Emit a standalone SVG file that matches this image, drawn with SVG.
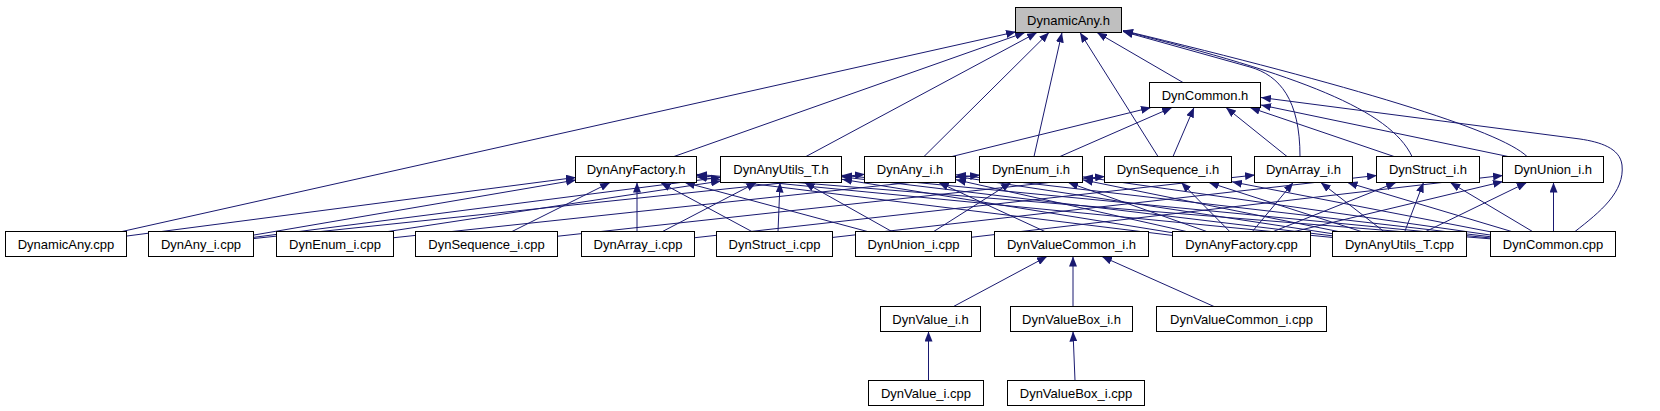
<svg xmlns="http://www.w3.org/2000/svg" width="1660" height="411" viewBox="0 0 1660 411">
<style>
.n rect{fill:#ffffff;stroke:#000000;stroke-width:1}
.n text{font-family:"Liberation Sans",Arial,sans-serif;font-size:13px;text-anchor:middle;fill:#000000}
#n_DynamicAny_h rect{fill:#bfbfbf}
.e path{fill:none;stroke:#191970;stroke-width:1;marker-end:url(#ah)}
</style>
<defs>
<marker id="ah" viewBox="0 0 10 8" markerWidth="10" markerHeight="8" refX="10" refY="4" orient="auto" markerUnits="userSpaceOnUse">
<path d="M0,0 L10,4 L0,8 z" fill="#191970"/>
</marker>
</defs>
<rect x="0" y="0" width="1660" height="411" fill="#ffffff"/>
<g id="connectors" class="e">
<!-- into DynamicAny.h -->
<path d="M122,231.5 L1016,31.8"/>
<path d="M674,156.5 L1025,32.5"/>
<path d="M806,156.5 L1037,32.5"/>
<path d="M924,156.5 L1049,32.5"/>
<path d="M1034,156.5 L1062,32.5"/>
<path d="M1158,156.5 L1080,32.5"/>
<path d="M1183,82.5 L1097,32.5"/>
<path d="M1300,156.5 C1300,100 1280,75.5 1250,67 L1123,31.5"/>
<path d="M1412,156.5 C1390,110 1300,75 1123,31"/>
<path d="M1527,156.5 C1500,130 1350,85 1123,30.5"/>
<!-- into DynCommon.h -->
<path d="M952,156.5 L1151,107.5"/>
<path d="M1060,156.5 L1172,107.5"/>
<path d="M1173,156.5 L1194,107.5"/>
<path d="M1287,156.5 L1226,107.5"/>
<path d="M1394,156.5 L1250,107.5"/>
<path d="M1508,156.5 L1261,105"/>
<path d="M1575,231.5 C1600,212 1625,192 1622,165 C1620,148 1600,142 1580,139 L1261,97.5"/>
<!-- cpp row to header row -->
<path d="M127,236 L576,177.4"/>
<path d="M254,235 L576,180"/>
<path d="M254,237.3 L721,177.3"/>
<path d="M254,238.5 L865,174.3"/>
<path d="M388,231.5 L721,181"/>
<path d="M394,237.7 L980,175"/>
<path d="M512,231.5 L610,182.5"/>
<path d="M558,236.2 L1105,176.4"/>
<path d="M637,231.5 L637,182.5"/>
<path d="M662.5,231.5 L756.5,182.5"/>
<path d="M695,237.7 L1255,175"/>
<path d="M751.8,231.5 L660.7,182.5"/>
<path d="M778,231.5 L780,182.5"/>
<path d="M833,237.4 L1377,175.4"/>
<path d="M867.4,231.5 L684.9,182.5"/>
<path d="M891.8,231.5 L804.6,182.5"/>
<path d="M933.7,231.5 L1011,182.5"/>
<path d="M972,237.2 L1503,175.4"/>
<path d="M1044.9,231.5 L938.7,182.5"/>
<path d="M1173,235.5 L697,176.9"/>
<path d="M1173,232.8 L842,179.3"/>
<path d="M1186.4,231.5 L956,179.7"/>
<path d="M1206.7,231.5 L1068.2,182.5"/>
<path d="M1229.7,231.5 L1181.3,182.5"/>
<path d="M1252.4,231.5 L1293.2,182.5"/>
<path d="M1273.3,231.5 L1396,182.5"/>
<path d="M1294.3,231.5 L1503,181.6"/>
<path d="M1333,237.5 L697,175.4"/>
<path d="M1333,235.9 L842,176.8"/>
<path d="M1333,233.8 L956,176.4"/>
<path d="M1338.2,231.5 L1083,179.9"/>
<path d="M1361.2,231.5 L1208.9,182.5"/>
<path d="M1383.9,231.5 L1320.8,182.5"/>
<path d="M1404.8,231.5 L1423.5,182.5"/>
<path d="M1425.8,231.5 L1526.7,182.5"/>
<path d="M1491,238.9 L697,174.4"/>
<path d="M1491,238 L842,175.3"/>
<path d="M1491,236.8 L956,174.8"/>
<path d="M1491,235.1 L1083,176.9"/>
<path d="M1491,231.9 L1232,181.8"/>
<path d="M1511.6,231.5 L1347.5,182.5"/>
<path d="M1532.5,231.5 L1450.3,182.5"/>
<path d="M1553.5,231.5 L1553.5,182.5"/>
<!-- value group -->
<path d="M953.5,306.5 L1047,256.5"/>
<path d="M1073,306.5 L1073,256.5"/>
<path d="M1214,306.5 L1102,256.5"/>
<path d="M928.5,380.5 L928.5,331.5"/>
<path d="M1075,380.5 L1073,331.5"/>
</g>
<g id="n_DynamicAny_h" class="n"><rect x="1015.5" y="7.5" width="106" height="25"/><text x="1068.5" y="24.5">DynamicAny.h</text></g>
<g id="n_DynCommon_h" class="n"><rect x="1149.5" y="82.5" width="111" height="25"/><text x="1205" y="99.5">DynCommon.h</text></g>
<g id="n_DynAnyFactory_h" class="n"><rect x="575.5" y="156.5" width="121" height="26"/><text x="636" y="174">DynAnyFactory.h</text></g>
<g id="n_DynAnyUtils_T_h" class="n"><rect x="720.5" y="156.5" width="121" height="26"/><text x="781" y="174">DynAnyUtils_T.h</text></g>
<g id="n_DynAny_i_h" class="n"><rect x="864.5" y="156.5" width="91" height="26"/><text x="910" y="174">DynAny_i.h</text></g>
<g id="n_DynEnum_i_h" class="n"><rect x="979.5" y="156.5" width="103" height="26"/><text x="1031" y="174">DynEnum_i.h</text></g>
<g id="n_DynSequence_i_h" class="n"><rect x="1104.5" y="156.5" width="127" height="26"/><text x="1168" y="174">DynSequence_i.h</text></g>
<g id="n_DynArray_i_h" class="n"><rect x="1254.5" y="156.5" width="98" height="26"/><text x="1303.5" y="174">DynArray_i.h</text></g>
<g id="n_DynStruct_i_h" class="n"><rect x="1376.5" y="156.5" width="103" height="26"/><text x="1428" y="174">DynStruct_i.h</text></g>
<g id="n_DynUnion_i_h" class="n"><rect x="1502.5" y="156.5" width="101" height="26"/><text x="1553" y="174">DynUnion_i.h</text></g>
<g id="n_DynamicAny_cpp" class="n"><rect x="5.5" y="231.5" width="121" height="25"/><text x="66" y="248.5">DynamicAny.cpp</text></g>
<g id="n_DynAny_i_cpp" class="n"><rect x="148.5" y="231.5" width="105" height="25"/><text x="201" y="248.5">DynAny_i.cpp</text></g>
<g id="n_DynEnum_i_cpp" class="n"><rect x="276.5" y="231.5" width="117" height="25"/><text x="335" y="248.5">DynEnum_i.cpp</text></g>
<g id="n_DynSequence_i_cpp" class="n"><rect x="415.5" y="231.5" width="142" height="25"/><text x="486.5" y="248.5">DynSequence_i.cpp</text></g>
<g id="n_DynArray_i_cpp" class="n"><rect x="581.5" y="231.5" width="113" height="25"/><text x="638" y="248.5">DynArray_i.cpp</text></g>
<g id="n_DynStruct_i_cpp" class="n"><rect x="716.5" y="231.5" width="116" height="25"/><text x="774.5" y="248.5">DynStruct_i.cpp</text></g>
<g id="n_DynUnion_i_cpp" class="n"><rect x="855.5" y="231.5" width="116" height="25"/><text x="913.5" y="248.5">DynUnion_i.cpp</text></g>
<g id="n_DynValueCommon_i_h" class="n"><rect x="994.5" y="231.5" width="154" height="25"/><text x="1071.5" y="248.5">DynValueCommon_i.h</text></g>
<g id="n_DynAnyFactory_cpp" class="n"><rect x="1172.5" y="231.5" width="138" height="25"/><text x="1241.5" y="248.5">DynAnyFactory.cpp</text></g>
<g id="n_DynAnyUtils_T_cpp" class="n"><rect x="1332.5" y="231.5" width="134" height="25"/><text x="1399.5" y="248.5">DynAnyUtils_T.cpp</text></g>
<g id="n_DynCommon_cpp" class="n"><rect x="1490.5" y="231.5" width="125" height="25"/><text x="1553" y="248.5">DynCommon.cpp</text></g>
<g id="n_DynValue_i_h" class="n"><rect x="880.5" y="306.5" width="100" height="25"/><text x="930.5" y="323.5">DynValue_i.h</text></g>
<g id="n_DynValueBox_i_h" class="n"><rect x="1010.5" y="306.5" width="122" height="25"/><text x="1071.5" y="323.5">DynValueBox_i.h</text></g>
<g id="n_DynValueCommon_i_cpp" class="n"><rect x="1156.5" y="306.5" width="170" height="25"/><text x="1241.5" y="323.5">DynValueCommon_i.cpp</text></g>
<g id="n_DynValue_i_cpp" class="n"><rect x="868.5" y="380.5" width="115" height="25"/><text x="926" y="397.5">DynValue_i.cpp</text></g>
<g id="n_DynValueBox_i_cpp" class="n"><rect x="1007.5" y="380.5" width="137" height="25"/><text x="1076" y="397.5">DynValueBox_i.cpp</text></g>
</svg>
